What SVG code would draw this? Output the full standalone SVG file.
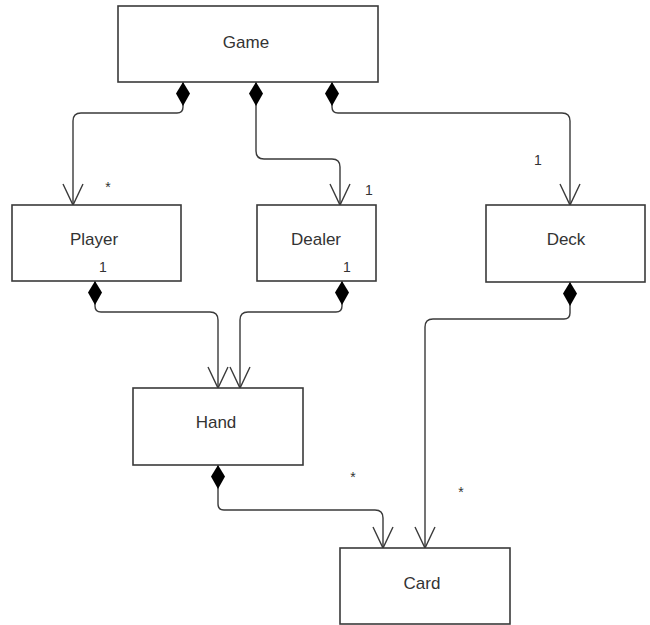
<svg xmlns="http://www.w3.org/2000/svg" width="650" height="625" viewBox="0 0 650 625">
  <style>
    .box { fill: #ffffff; stroke: #3a3a3a; stroke-width: 1.6; }
    .name { font-family: "Liberation Sans", Arial, sans-serif; font-size: 17px; fill: #333333; text-anchor: middle; }
    .mult { font-family: "Liberation Sans", Arial, sans-serif; font-size: 14px; fill: #333333; text-anchor: middle; }
    .edge { fill: none; stroke: #3a3a3a; stroke-width: 1.4; }
  </style>
  <defs>
    <!-- filled diamond: composition end -->
    <marker id="diamond" markerWidth="16" markerHeight="26" refX="8" refY="1" orient="0" markerUnits="userSpaceOnUse">
      <path d="M8 1 L15 12.5 L8 25 L1 12.5 Z" fill="#000000"/>
    </marker>
    <!-- open V arrowhead: navigation end -->
    <marker id="open" markerWidth="24" markerHeight="24" refX="12" refY="22" orient="0" markerUnits="userSpaceOnUse">
      <path d="M2 1 L12 22 L22 1" fill="none" stroke="#3a3a3a" stroke-width="1.4"/>
    </marker>
  </defs>
  <rect width="650" height="625" fill="#ffffff"/>

  <g id="connectors">
    <!-- Game to Player -->
    <path class="edge" marker-start="url(#diamond)" marker-end="url(#open)" d="M183 82 V107 Q183 113 177 113 H81 Q73 113 73 121 V205"/>
    <!-- Game to Dealer -->
    <path class="edge" marker-start="url(#diamond)" marker-end="url(#open)" d="M256 82 V151 Q256 159 264 159 H332 Q340 159 340 167 V205"/>
    <!-- Game to Deck -->
    <path class="edge" marker-start="url(#diamond)" marker-end="url(#open)" d="M332 82 V107 Q332 113 338 113 H562 Q570 113 570 121 V205"/>
    <!-- Player to Hand -->
    <path class="edge" marker-start="url(#diamond)" marker-end="url(#open)" d="M95 281 V306 Q95 312 101 312 H210 Q218 312 218 320 V388"/>
    <!-- Dealer to Hand -->
    <path class="edge" marker-start="url(#diamond)" marker-end="url(#open)" d="M342 281 V306 Q342 312 336 312 H248 Q240 312 240 320 V388"/>
    <!-- Hand to Card -->
    <path class="edge" marker-start="url(#diamond)" marker-end="url(#open)" d="M218 465 V504 Q218 510 224 510 H375 Q383 510 383 518 V548"/>
    <!-- Deck to Card -->
    <path class="edge" marker-start="url(#diamond)" marker-end="url(#open)" d="M570 282 V313 Q570 319 564 319 H433 Q425 319 425 327 V548"/>
  </g>

  <g id="game">
    <rect class="box" x="118" y="6" width="260" height="76"/>
    <text class="name" x="246" y="48">Game</text>
  </g>
  <g id="player">
    <rect class="box" x="12" y="205" width="169" height="76"/>
    <text class="name" x="94" y="245">Player</text>
    <text class="mult" x="103" y="272">1</text>
  </g>
  <g id="dealer">
    <rect class="box" x="257" y="205" width="119" height="76"/>
    <text class="name" x="316" y="245">Dealer</text>
    <text class="mult" x="347" y="272">1</text>
  </g>
  <g id="deck">
    <rect class="box" x="486" y="205" width="159" height="77"/>
    <text class="name" x="566" y="245">Deck</text>
  </g>
  <g id="hand">
    <rect class="box" x="133" y="388" width="170" height="77"/>
    <text class="name" x="216" y="428">Hand</text>
  </g>
  <g id="card">
    <rect class="box" x="340" y="548" width="170" height="76"/>
    <text class="name" x="422" y="589">Card</text>
  </g>

  <g id="multiplicities">
    <text class="mult" x="108" y="192">*</text>
    <text class="mult" x="369" y="195">1</text>
    <text class="mult" x="538" y="165">1</text>
    <text class="mult" x="353" y="482">*</text>
    <text class="mult" x="461" y="497">*</text>
  </g>
</svg>
